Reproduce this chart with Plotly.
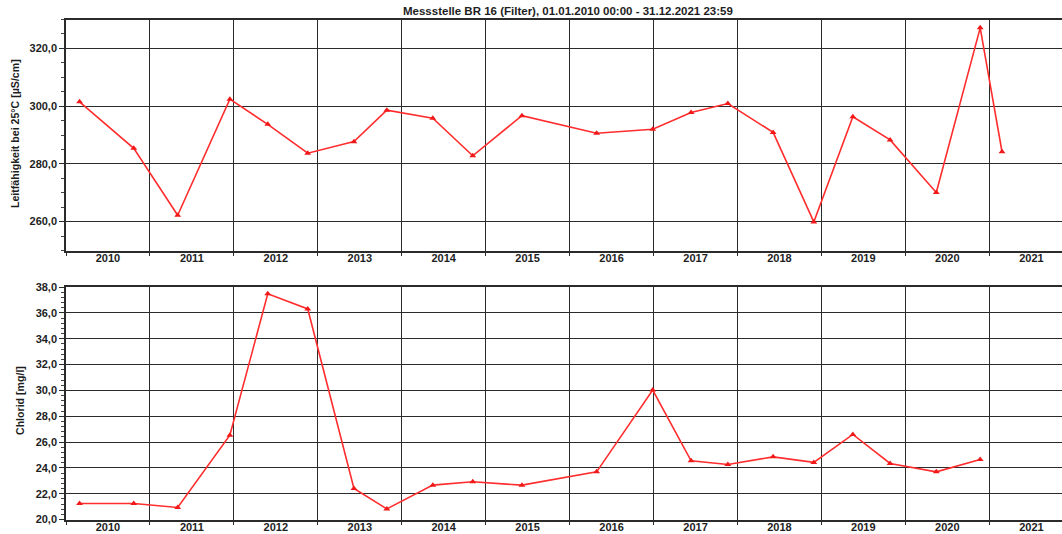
import plotly.graph_objects as go

# ---- data ----
dates_lf = ["2010-03-01", "2010-10-23", "2011-05-02", "2011-12-15", "2012-05-28", "2012-11-18",
            "2013-06-07", "2013-10-28", "2014-05-16", "2014-11-06", "2015-06-08", "2016-04-28",
            "2016-12-28", "2017-06-13", "2017-11-20", "2018-06-05", "2018-11-29", "2019-05-18",
            "2019-10-27", "2020-05-15", "2020-11-22", "2021-02-25"]
leitfaehigkeit = [301.5, 285.4, 262.2, 302.4, 293.7, 283.7, 287.7, 298.6, 295.8, 282.8, 296.7,
                  290.6, 292.0, 297.8, 300.9, 290.9, 259.9, 296.3, 288.3, 270.1, 327.1, 284.2]

dates_cl = dates_lf[:21]
chlorid = [21.24, 21.24, 20.93, 26.53, 37.47, 36.3, 22.4, 20.82, 22.66, 22.92, 22.66,
           23.69, 30.02, 24.54, 24.26, 24.85, 24.42, 26.59, 24.34, 23.69, 24.65]

title_text = "Messstelle BR 16 (Filter), 01.01.2010 00:00 - 31.12.2021 23:59"
ytitle_top = "Leitfähigkeit bei 25°C [µS/cm]"
ytitle_bot = "Chlorid [mg/l]"

W, H = 1062, 534
L = 66
FONT = "Liberation Sans, Arial, sans-serif"
RED = "#ff2d2d"
GRID = "#2b2b2b"
TXT = "#1e1e1e"

fig = go.Figure()
fig.add_trace(go.Scatter(x=dates_lf, y=leitfaehigkeit, mode="lines+markers",
                         line=dict(color=RED, width=1.6),
                         marker=dict(symbol="triangle-up", size=6, color="#f01818"),
                         xaxis="x", yaxis="y", showlegend=False))
fig.add_trace(go.Scatter(x=dates_cl, y=chlorid, mode="lines+markers",
                         line=dict(color=RED, width=1.6),
                         marker=dict(symbol="triangle-up", size=6, color="#f01818"),
                         xaxis="x2", yaxis="y2", showlegend=False))

def py(px):
    return 1 - px / H

xcommon = dict(type="date", range=["2010-01-01", "2021-11-13"], dtick="M12", tick0="2010-01-01",
               tickformat="<b>%Y</b>", ticklabelmode="period", showgrid=True, gridcolor=GRID, gridwidth=1.3,
               showline=True, linecolor=GRID, linewidth=1.5, mirror=True,
               ticks="outside", ticklen=4, tickcolor=GRID, tickwidth=1.3,
               ticklabelstandoff=-7,
               tickfont=dict(family=FONT, size=11, color=TXT),
               automargin=False, zeroline=False)

ycommon = dict(showgrid=True, gridcolor=GRID, gridwidth=1.2,
               showline=True, linecolor=GRID, linewidth=1.5,
               ticks="outside", ticklen=5, tickcolor=GRID, tickwidth=1.2,
               tickfont=dict(family=FONT, size=11, color=TXT),
               automargin=False, zeroline=False)

fig.update_layout(
    width=W, height=H,
    margin=dict(l=L, r=0, t=0, b=0),
    paper_bgcolor="white", plot_bgcolor="white",
    separators=",.",
    font=dict(family=FONT, color=TXT),
    xaxis=dict(**xcommon, anchor="y", domain=[0, 1]),
    xaxis2=dict(**xcommon, anchor="y2", domain=[0, 1]),
    yaxis=dict(**ycommon, domain=[py(250.5), py(19.5)], range=[250, 330], tick0=260, dtick=20,
               tickformat="<b>.1f</b>" if False else ".1f",
               minor=dict(dtick=5, tick0=250, ticks="outside", ticklen=3, tickcolor="#444444",
                          showgrid=False),
               anchor="x"),
    yaxis2=dict(**ycommon, domain=[py(519.5), py(287)], range=[20, 38], tick0=20, dtick=2,
                tickformat=".1f",
                minor=dict(dtick=0.4, tick0=20, ticks="outside", ticklen=3, tickcolor="#444444",
                           showgrid=False),
                anchor="x2"),
)
fig.update_yaxes(tickfont=dict(family=FONT, size=11, color=TXT, weight="bold"))
fig.update_xaxes(tickformat="%Y", tickfont=dict(family=FONT, size=11, color=TXT, weight="bold"))

pw = W - L
def pxx(px):
    return (px - L) / pw

fig.add_annotation(text="<b>" + title_text + "</b>", xref="paper", yref="paper",
                   x=pxx(568), y=py(11), xanchor="center", yanchor="middle", showarrow=False,
                   font=dict(family=FONT, size=11.5, color=TXT))
fig.add_annotation(text="<b>" + ytitle_top + "</b>", xref="paper", yref="paper",
                   x=pxx(15), y=py(134), xanchor="center", yanchor="middle", showarrow=False,
                   textangle=-90, font=dict(family=FONT, size=10.6, color=TXT))
fig.add_annotation(text="<b>" + ytitle_bot + "</b>", xref="paper", yref="paper",
                   x=pxx(20), y=py(401), xanchor="center", yanchor="middle", showarrow=False,
                   textangle=-90, font=dict(family=FONT, size=10.6, color=TXT))

fig.write_html("out.html")
